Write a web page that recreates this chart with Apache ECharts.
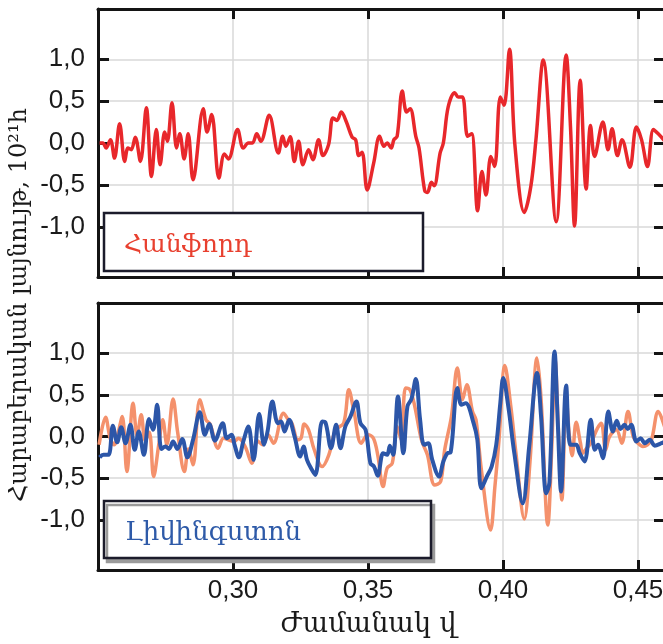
<!DOCTYPE html>
<html>
<head>
<meta charset="utf-8">
<script src="https://cdn.jsdelivr.net/npm/echarts@6/dist/echarts.min.js"></script>
<style>
  html, body { margin: 0; padding: 0; background: #fff; }
  #chart { width: 663px; height: 644px; }
</style>
</head>
<body>
<div id="chart"></div>
<script>
// ---- Data ----
const hanfordT = [0.2506,0.2518,0.2530,0.2546,0.2561,0.2580,0.2599,0.2611,0.2623,0.2638,0.2657,0.2679,0.2698,0.2716,0.2730,0.2747,0.2757,0.2774,0.2791,0.2803,0.2819,0.2834,0.2852,0.2890,0.2904,0.2921,0.2948,0.2968,0.2983,0.3017,0.3038,0.3057,0.3072,0.3088,0.3103,0.3134,0.3168,0.3184,0.3196,0.3212,0.3227,0.3243,0.3259,0.3280,0.3296,0.3317,0.3333,0.3354,0.3370,0.3385,0.3401,0.3420,0.3441,0.3454,0.3466,0.3478,0.3497,0.3521,0.3543,0.3559,0.3571,0.3586,0.3596,0.3608,0.3627,0.3643,0.3656,0.3677,0.3689,0.3710,0.3720,0.3735,0.3745,0.3767,0.3779,0.3797,0.3821,0.3834,0.3850,0.3869,0.3884,0.3906,0.3922,0.3937,0.3955,0.3969,0.3990,0.4004,0.4024,0.4044,0.4079,0.4103,0.4122,0.4149,0.4197,0.4234,0.4250,0.4265,0.4286,0.4308,0.4324,0.4339,0.4370,0.4389,0.4404,0.4424,0.4441,0.4470,0.4494,0.4513,0.4535,0.4557,0.4575,0.4600];
const hanfordV = [0.00,0.00,-0.06,0.04,-0.18,0.23,-0.22,-0.06,-0.08,0.07,-0.22,0.42,-0.40,0.16,-0.26,0.13,0.02,0.48,-0.06,0.11,-0.19,0.11,-0.44,0.41,0.13,0.34,-0.42,-0.13,-0.19,0.16,-0.06,0.00,0.00,0.11,0.02,0.33,-0.12,0.08,-0.04,0.075,-0.22,0.02,-0.26,-0.08,-0.20,0.04,-0.15,-0.02,0.30,0.27,0.37,0.25,0.07,0.04,-0.15,-0.11,-0.56,-0.24,0.08,-0.04,0.00,-0.06,0.04,0.08,0.62,0.37,0.41,0.08,-0.06,-0.57,-0.59,-0.47,-0.51,-0.12,0.00,0.43,0.60,0.55,0.55,0.08,0.11,-0.81,-0.34,-0.62,-0.16,-0.28,0.55,0.45,1.12,-0.02,-0.83,-0.52,0.04,0.99,-0.94,1.05,0.19,-0.99,0.75,-0.55,0.21,-0.16,0.25,-0.08,0.17,-0.15,0.04,-0.29,0.19,0.04,-0.28,0.16,0.11,0.02];

const livingstonT = [0.2506,0.2520,0.2539,0.2555,0.2571,0.2586,0.2602,0.2620,0.2636,0.2651,0.2670,0.2689,0.2704,0.2719,0.2735,0.2750,0.2763,0.2778,0.2794,0.2812,0.2831,0.2852,0.2877,0.2896,0.2912,0.2933,0.2962,0.2977,0.2995,0.3005,0.3022,0.3038,0.3057,0.3076,0.3097,0.3115,0.3128,0.3146,0.3166,0.3178,0.3191,0.3208,0.3228,0.3249,0.3261,0.3274,0.3289,0.3305,0.3330,0.3342,0.3363,0.3382,0.3398,0.3416,0.3435,0.3457,0.3472,0.3491,0.3509,0.3522,0.3536,0.3556,0.3571,0.3581,0.3593,0.3611,0.3631,0.3646,0.3661,0.3677,0.3693,0.3708,0.3723,0.3738,0.3763,0.3779,0.3794,0.3806,0.3831,0.3846,0.3862,0.3891,0.3905,0.3920,0.3940,0.3958,0.3975,0.3990,0.4001,0.4020,0.4042,0.4073,0.4097,0.4126,0.4141,0.4160,0.4172,0.4191,0.4203,0.4215,0.4234,0.4250,0.4271,0.4284,0.4302,0.4325,0.4340,0.4352,0.4370,0.4390,0.4407,0.4421,0.4435,0.4450,0.4462,0.4475,0.4494,0.4510,0.4525,0.4544,0.4562,0.4587,0.4600];
const livingstonV = [-0.25,-0.22,-0.22,0.13,-0.07,0.11,-0.08,0.14,-0.16,0.06,-0.22,0.21,0.08,0.38,-0.15,-0.12,-0.15,-0.06,-0.15,-0.03,-0.25,-0.04,0.29,0.02,0.15,-0.05,0.16,-0.02,0.02,-0.09,-0.25,-0.06,0.12,-0.28,0.27,-0.10,0.06,0.42,0.16,0.18,0.06,0.20,0.00,-0.24,-0.12,-0.28,-0.38,-0.46,0.18,0.17,-0.14,0.14,-0.14,0.12,0.24,0.42,0.16,0.08,-0.32,-0.36,-0.47,-0.20,-0.22,-0.11,-0.22,0.48,-0.20,0.36,0.45,0.69,0.20,-0.10,-0.08,-0.28,-0.48,-0.30,-0.20,-0.19,0.58,0.38,0.40,0.16,-0.04,-0.62,-0.48,-0.36,-0.10,0.40,0.70,0.35,-0.20,-0.80,-0.12,0.76,0.24,-0.68,-0.55,1.02,0.16,-0.66,0.61,-0.10,-0.10,-0.20,-0.30,0.20,-0.16,-0.10,-0.26,0.30,0.06,0.19,0.09,0.14,0.09,0.14,-0.06,-0.02,-0.08,-0.04,-0.11,-0.08,-0.06];

const hanfordShiftT = [0.2504,0.2528,0.2545,0.2560,0.2575,0.2590,0.2607,0.2630,0.2645,0.2660,0.2675,0.2690,0.2706,0.2725,0.2740,0.2755,0.2778,0.2795,0.2820,0.2835,0.2852,0.2877,0.2900,0.2915,0.2945,0.2965,0.2990,0.3005,0.3020,0.3045,0.3070,0.3090,0.3110,0.3130,0.3150,0.3187,0.3205,0.3218,0.3240,0.3252,0.3264,0.3280,0.3300,0.3330,0.3355,0.3380,0.3410,0.3429,0.3448,0.3475,0.3500,0.3520,0.3536,0.3556,0.3571,0.3590,0.3608,0.3623,0.3639,0.3655,0.3672,0.3698,0.3720,0.3747,0.3769,0.3784,0.3809,0.3831,0.3850,0.3866,0.3887,0.3900,0.3920,0.3954,0.3970,0.3985,0.4007,0.4029,0.4048,0.4079,0.4100,0.4126,0.4141,0.4166,0.4181,0.4193,0.4205,0.4218,0.4234,0.4246,0.4256,0.4271,0.4287,0.4295,0.4310,0.4325,0.4350,0.4364,0.4380,0.4395,0.4420,0.4440,0.4463,0.4482,0.4500,0.4518,0.4535,0.4550,0.4575,0.4600];
const hanfordShiftV = [-0.10,0.23,-0.02,-0.10,0.05,0.24,-0.42,0.40,0.00,0.26,-0.05,0.05,-0.48,-0.10,0.20,-0.10,0.45,0.05,-0.42,-0.15,-0.34,0.44,0.20,0.15,-0.14,-0.02,-0.05,-0.06,-0.02,-0.12,-0.32,-0.05,-0.10,0.02,-0.08,0.28,0.20,0.16,-0.04,-0.02,0.15,0.08,-0.15,-0.36,-0.22,0.08,0.16,0.56,0.30,-0.08,0.02,-0.02,-0.22,-0.60,-0.38,-0.32,0.12,-0.04,0.58,0.56,0.38,-0.04,-0.22,-0.58,-0.54,-0.16,0.24,0.82,0.44,0.62,0.30,0.20,-0.40,-1.12,-0.60,-0.05,0.85,0.36,-0.20,-0.99,-0.30,0.94,0.45,-1.06,-0.10,0.92,0.10,-0.76,0.48,0.00,-0.23,0.17,-0.08,-0.20,-0.14,-0.08,0.10,0.16,-0.16,0.00,0.08,-0.08,0.30,0.00,-0.08,-0.12,-0.10,-0.04,0.30,0.10];

const xTickLabels = [0.30, 0.35, 0.40, 0.45];
const yTickValues = [-1.0, -0.5, 0.0, 0.5, 1.0];

const panelNames = ['Հանֆորդ', 'Լիվինգստոն'];
const yAxisTitle = 'Հարաբերական լայնույթ, 10²¹h';
const xAxisTitle = 'Ժամանակ վ';

// ---- Build options ----
const pairs = (t, v) => t.map((x, i) => [x, v[i]]);
const frameColor = '#141414';
const gridColor = '#d9d9d9';
const numFont = 'Liberation Sans';
const armFont = 'DejaVu Serif';

function xAxisFor(gridIndex, pos, showLabels) {
  return {
    type: 'value', gridIndex, position: pos,
    min: 0.25, max: 0.46, interval: 0.05,
    axisLine: { show: true, onZero: false, lineStyle: { color: frameColor, width: 3 } },
    axisTick: { show: true, inside: true, length: 10, lineStyle: { color: frameColor, width: 3 } },
    axisLabel: {
      show: showLabels, customValues: xTickLabels, margin: 8,
      fontFamily: numFont, fontSize: 26, color: '#1a1a1a',
      formatter: v => v.toFixed(2).replace('.', ',')
    },
    splitLine: { show: pos === 'bottom', lineStyle: { color: gridColor, width: 1.5 } }
  };
}
function yAxisFor(gridIndex, pos, showLabels) {
  return {
    type: 'value', gridIndex, position: pos,
    min: -1.6, max: 1.6,
    axisLine: { show: true, onZero: false, lineStyle: { color: frameColor, width: 3 } },
    axisTick: { show: true, inside: true, length: 11, customValues: yTickValues, lineStyle: { color: frameColor, width: 3 } },
    axisLabel: {
      show: showLabels, customValues: yTickValues, margin: 13,
      fontFamily: numFont, fontSize: 26, color: '#1a1a1a',
      formatter: v => v.toFixed(1).replace('.', ',')
    },
    splitLine: { show: pos === 'left', lineStyle: { color: gridColor, width: 1.5 } }
  };
}

const option = {
  backgroundColor: '#ffffff',
  animation: false,
  grid: [
    { left: 98, right: -2, top: 9, height: 268, outerBoundsMode: 'none', containLabel: false },
    { left: 98, right: -2, top: 303, height: 267, outerBoundsMode: 'none', containLabel: false }
  ],
  xAxis: [
    xAxisFor(0, 'bottom', false),
    xAxisFor(0, 'top', false),
    Object.assign(xAxisFor(1, 'bottom', true), {
      name: xAxisTitle, nameLocation: 'middle', nameGap: 41,
      nameTextStyle: { fontFamily: armFont, fontSize: 27, color: '#1a1a1a', padding: [0, 26, 0, 0] }
    }),
    xAxisFor(1, 'top', false)
  ],
  yAxis: [
    yAxisFor(0, 'left', true),
    yAxisFor(0, 'right', false),
    yAxisFor(1, 'left', true),
    yAxisFor(1, 'right', false)
  ],
  series: [
    { name: panelNames[0], type: 'line', xAxisIndex: 0, yAxisIndex: 0, data: pairs(hanfordT, hanfordV),
      showSymbol: false, smooth: 0.35, lineStyle: { color: '#e8272b', width: 3.5 }, z: 3 },
    { name: 'Հանֆորդ (տեղաշարժված)', type: 'line', xAxisIndex: 2, yAxisIndex: 2, data: pairs(hanfordShiftT, hanfordShiftV),
      showSymbol: false, smooth: 0.35, lineStyle: { color: '#f4916c', width: 3.5 }, z: 3 },
    { name: panelNames[1], type: 'line', xAxisIndex: 2, yAxisIndex: 2, data: pairs(livingstonT, livingstonV),
      showSymbol: false, smooth: 0.35, lineStyle: { color: '#2c56a8', width: 4 }, z: 4 }
  ],
  graphic: [
    { type: 'text', x: 20, y: 305, rotation: Math.PI / 2, z: 100,
      style: { text: yAxisTitle, font: '24px "DejaVu Serif"', fill: '#1a1a1a', align: 'center', verticalAlign: 'middle' } },
    { type: 'rect', z: 100, shape: { x: 104, y: 213, width: 319, height: 58 },
      style: { fill: '#ffffff', stroke: '#1b1b2b', lineWidth: 2.5 } },
    { type: 'text', z: 101, x: 124, y: 245,
      style: { text: panelNames[0], font: '25px "DejaVu Serif"', fill: '#e8402f', verticalAlign: 'middle' } },
    { type: 'rect', z: 100, shape: { x: 104, y: 501, width: 327, height: 57 },
      style: { fill: '#ffffff', stroke: '#1b1b2b', lineWidth: 2.5, shadowBlur: 0, shadowOffsetX: 3, shadowOffsetY: 4, shadowColor: '#9a9a9a' } },
    { type: 'text', z: 101, x: 125, y: 533,
      style: { text: panelNames[1], font: '26px "DejaVu Serif"', fill: '#2e5aa8', verticalAlign: 'middle' } }
  ]
};

const chart = echarts.init(document.getElementById('chart'), null, { renderer: 'canvas' });
chart.setOption(option);
</script>
</body>
</html>
